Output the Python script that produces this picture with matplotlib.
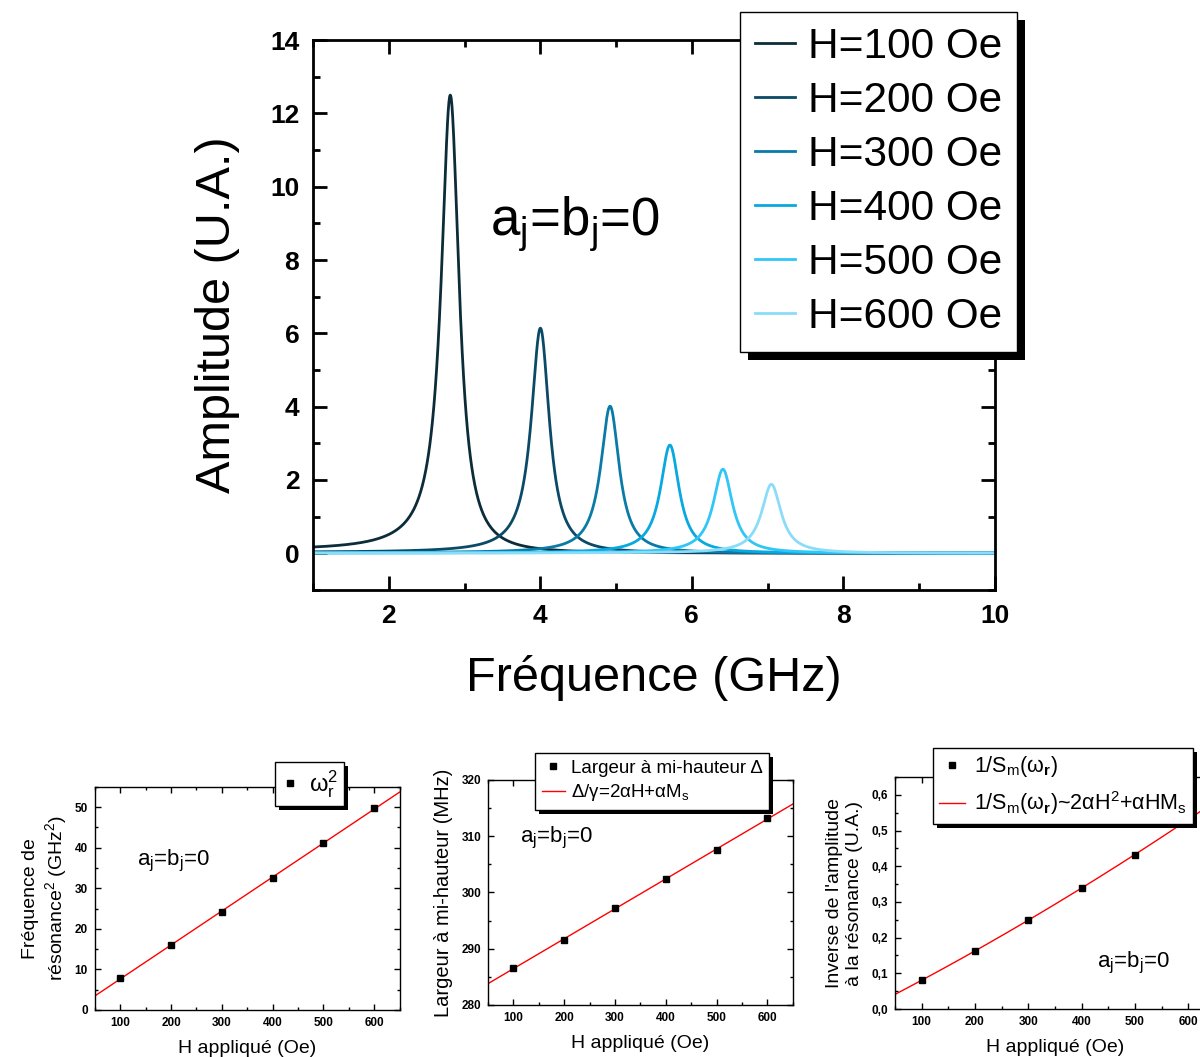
import numpy as np
import matplotlib
matplotlib.use('Agg')
import matplotlib.pyplot as plt
from matplotlib.patches import Rectangle
from matplotlib.transforms import IdentityTransform
from matplotlib.ticker import MultipleLocator, FuncFormatter

plt.rcParams['font.family'] = ['Liberation Sans', 'DejaVu Sans']
plt.rcParams['mathtext.fontset'] = 'custom'
plt.rcParams['mathtext.rm'] = 'Liberation Sans'
plt.rcParams['mathtext.it'] = 'Liberation Sans:italic'
plt.rcParams['mathtext.bf'] = 'Liberation Sans:bold'
plt.rcParams['mathtext.default'] = 'regular'

# donnees
champ_H = [100, 200, 300, 400, 500, 600]
freq_pic = [2.81, 4.00, 4.92, 5.71, 6.41, 7.05]          # GHz
ampl_pic = [12.5, 6.14, 4.01, 2.95, 2.29, 1.88]          # U.A.
omega2 = [7.9, 16.0, 24.1, 32.6, 41.1, 49.8]             # GHz^2
largeur = [286.6, 291.5, 297.3, 302.4, 307.5, 313.2]     # MHz
inv_ampl = [0.080, 0.163, 0.250, 0.339, 0.431, 0.532]    # U.A.
couleurs = ['#0c2c3a', '#0b4a66', '#0a7ba7', '#08a9e0', '#30c6f6', '#8adcf8']
noms = [f'H={h} Oe' for h in champ_H]

TXT_AB = 'a$_\\mathregular{j}$=b$_\\mathregular{j}$=0'

fig = plt.figure(figsize=(12, 10.57), dpi=100)


def ombre(ax, leg, dx, dy):
    fig.canvas.draw()
    bb = leg.get_frame().get_window_extent()
    r = Rectangle((bb.x0 + dx, bb.y0 - dy), bb.width, bb.height,
                  transform=IdentityTransform(), facecolor='black',
                  edgecolor='none', zorder=4.9, clip_on=False)
    ax.add_patch(r)


# ---- graphique principal ----
ax = fig.add_axes([0.261, 0.442, 0.568, 0.520])
f = np.linspace(1, 10, 2000)
for i in range(len(champ_H)):
    f0 = freq_pic[i]
    g = largeur[i] / 2000.0
    y = ampl_pic[i] / (1 + ((f**2 - f0**2) / (2 * f0 * g))**2)
    ax.plot(f, y, color=couleurs[i], lw=2.0, label=noms[i])

ax.set_xlim(1, 10)
ax.set_ylim(-1, 14)
ax.xaxis.set_major_locator(MultipleLocator(2))
ax.xaxis.set_minor_locator(MultipleLocator(1))
ax.yaxis.set_major_locator(MultipleLocator(2))
ax.yaxis.set_minor_locator(MultipleLocator(1))
ax.tick_params(which='both', direction='in', top=True, right=True, width=2)
ax.tick_params(which='major', length=10, labelsize=19, pad=10)
ax.tick_params(which='minor', length=5)
for lab in ax.get_xticklabels() + ax.get_yticklabels():
    lab.set_fontweight('bold')
for s in ax.spines.values():
    s.set_linewidth(2)
ax.set_xlabel('Fréquence (GHz)', fontsize=35, labelpad=20)
ax.set_ylabel('Amplitude (U.A.)', fontsize=35, labelpad=22)
ax.text(0.26, 0.645, TXT_AB, transform=ax.transAxes, fontsize=38)

leg = ax.legend(loc='upper left', bbox_to_anchor=(0.6167, 0.9886), bbox_transform=fig.transFigure,
                borderaxespad=0, fontsize=30.5, frameon=True, fancybox=False, edgecolor='black',
                framealpha=1, handlelength=0.95, handletextpad=0.3, labelspacing=0.33,
                borderpad=0.35)
leg.get_frame().set_linewidth(1)
leg.set_zorder(5)


def petit_axe(pos, xlim, ylim, ymaj, ymin):
    a = fig.add_axes(pos)
    a.set_xlim(*xlim)
    a.set_ylim(*ylim)
    a.xaxis.set_major_locator(MultipleLocator(100))
    a.xaxis.set_minor_locator(MultipleLocator(50))
    a.yaxis.set_major_locator(MultipleLocator(ymaj))
    a.yaxis.set_minor_locator(MultipleLocator(ymin))
    a.tick_params(which='both', direction='in', top=True, right=True, width=1)
    a.tick_params(which='major', length=4, labelsize=8.5, pad=5)
    a.tick_params(which='minor', length=2)
    for s in a.spines.values():
        s.set_linewidth(1)
    a.set_xlabel('H appliqué (Oe)', fontsize=14, labelpad=8)
    return a


Hx = np.linspace(50, 650, 200)

# ---- panneau 1 ----
ax1 = petit_axe([0.079, 0.0445, 0.254, 0.211], (50, 650), (0, 55), 10, 5)
ax1.plot(champ_H, omega2, 's', color='black', ms=4.5, label='$ω^2_r$', zorder=3)
c1 = np.polyfit(champ_H, omega2, 1)
ax1.plot(Hx, np.polyval(c1, Hx), color='red', lw=1, zorder=2)
ax1.set_ylabel('Fréquence de\nrésonance$^2$ (GHz$^2$)', fontsize=14, labelpad=4)
ax1.text(0.138, 0.65, TXT_AB, transform=ax1.transAxes, fontsize=16)
for lab in ax1.get_xticklabels() + ax1.get_yticklabels():
    lab.set_fontweight('bold')
l1 = ax1.legend(loc='upper left', bbox_to_anchor=(0.229, 0.279), bbox_transform=fig.transFigure,
                borderaxespad=0, fontsize=17, fancybox=False, edgecolor='black', framealpha=1,
                handlelength=0.8, handletextpad=0.4, borderpad=0.25, markerscale=1)
l1.get_frame().set_linewidth(1)

# ---- panneau 2 ----
ax2 = petit_axe([0.4067, 0.0492, 0.254, 0.213], (50, 650), (280, 320), 10, 5)
ax2.plot(champ_H, largeur, 's', color='black', ms=4.5, label='Largeur à mi-hauteur Δ', zorder=3)
c2 = np.polyfit(champ_H, largeur, 1)
ax2.plot(Hx, np.polyval(c2, Hx), color='red', lw=1, zorder=2, label='Δ/γ=2αH+αM$_s$')
ax2.set_ylabel('Largeur à mi-hauteur (MHz)', fontsize=14.5, labelpad=6)
ax2.text(0.105, 0.72, TXT_AB, transform=ax2.transAxes, fontsize=16)
for lab in ax2.get_xticklabels() + ax2.get_yticklabels():
    lab.set_fontweight('bold')
l2 = ax2.legend(loc='upper left', bbox_to_anchor=(0.4458, 0.2876), bbox_transform=fig.transFigure,
                borderaxespad=0, fontsize=13.5, fancybox=False, edgecolor='black', framealpha=1,
                handlelength=1.25, handletextpad=0.3, borderpad=0.35, labelspacing=0.3)
l2.get_frame().set_linewidth(1)

# ---- panneau 3 ----
ax3 = petit_axe([0.7458, 0.0454, 0.2667, 0.2195], (50, 650), (0, 0.65), 0.1, 0.05)
ax3.plot(champ_H, inv_ampl, 's', color='black', ms=4.5, label='1/S$_m$(ω$_\\mathbf{r}$)', zorder=3)
c3 = np.polyfit(champ_H, inv_ampl, 2)
ax3.plot(Hx, np.polyval(c3, Hx), color='red', lw=1, zorder=2,
         label='1/S$_m$(ω$_\\mathbf{r}$)~2αH$^2$+αHM$_s$')
ax3.yaxis.set_major_formatter(FuncFormatter(lambda v, p: f'{v:.1f}'.replace('.', ',')))
ax3.set_ylabel("Inverse de l'amplitude\nà la résonance (U.A.)", fontsize=14, labelpad=6)
ax3.text(0.632, 0.18, TXT_AB, transform=ax3.transAxes, fontsize=16)
for lab in ax3.get_xticklabels() + ax3.get_yticklabels():
    lab.set_fontweight('bold')
l3 = ax3.legend(loc='upper left', bbox_to_anchor=(0.7775, 0.2923), bbox_transform=fig.transFigure,
                borderaxespad=0, fontsize=15.5, fancybox=False, edgecolor='black', framealpha=1,
                handlelength=1.2, handletextpad=0.4, borderpad=0.3, labelspacing=0.45)
l3.get_frame().set_linewidth(1)

ombre(ax, leg, 8, 8)
ombre(ax1, l1, 4, 4)
ombre(ax2, l2, 4, 4)
ombre(ax3, l3, 4, 4)

fig.savefig('out.png', dpi=100)
